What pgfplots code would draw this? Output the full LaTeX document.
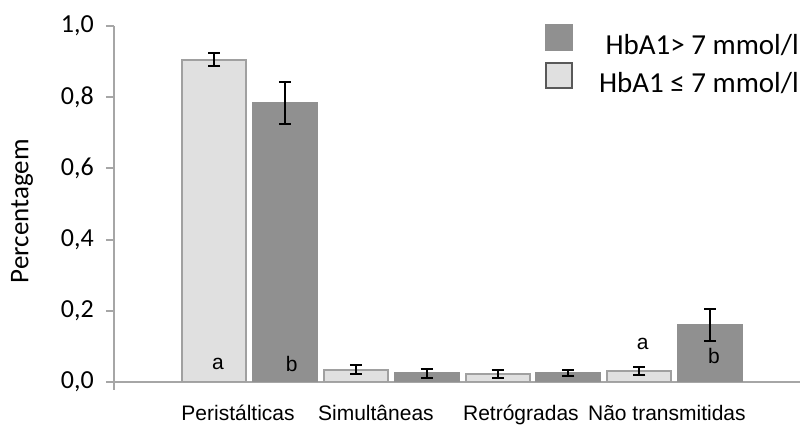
\documentclass[border=0pt]{standalone}
\usepackage{pgfplots}
\pgfplotsset{compat=1.18}
\usepackage{fontspec}
\setmainfont{Carlito}
\newfontfamily\arialfont{Liberation Sans}
\definecolor{lightbar}{RGB}{224,224,224}
\definecolor{lightedge}{RGB}{160,160,160}
\definecolor{darkbar}{RGB}{144,144,144}
\definecolor{axisgray}{RGB}{166,166,166}

\begin{document}
\begin{tikzpicture}
\begin{axis}[
  name=ax,
  scale only axis,
  width=686pt, height=356pt,
  xmin=-0.956, xmax=3.884,
  ymin=0, ymax=1,
  axis lines=left,
  axis line style={axisgray, line width=2pt, -},
  ybar, bar shift=0pt, bar width=0.4515,
  ytick={0,0.2,0.4,0.6,0.8,1},
  xtick={-0.081,0.892,1.915,2.945},
  xticklabels={Peristálticas, Simultâneas, Retrógradas, Não transmitidas},
  extra x ticks={-0.956},
  extra x tick labels={},
  extra x tick style={xtick style={draw=axisgray, line width=2pt}},
  tick align=outside,
  major tick length=8pt,
  xtick style={draw=none},
  ytick style={draw=axisgray, line width=2pt},
  /pgf/number format/.cd, use comma, fixed, fixed zerofill, precision=1, assume math mode=true,
  /pgfplots/.cd,
  yticklabel style={font=\fontsize{26}{30}\selectfont, inner sep=0pt, xshift=-12pt},
  xticklabel style={font=\arialfont\fontsize{21}{25}\selectfont, anchor=base, yshift=-31pt},
  ylabel={Percentagem},
  ylabel style={at={(axis description cs:-0.134,0.48)}, anchor=center, font=\fontsize{27}{30}\selectfont},
  legend style={at={(axis description cs:0.628,1.005)}, anchor=north west,
    draw=none, fill=none, inner sep=0pt, row sep=2pt,
    font=\fontsize{29}{33}\selectfont,
    nodes={inner sep=0pt, text height=20pt, text depth=6pt}},
  legend cell align=right,
]

% HbA1 > 7 mmol/l
\addplot[fill=darkbar, draw=darkbar, line width=2pt,
  legend image code/.code={\fill[darkbar] (0pt,-3pt) rectangle (26pt,22pt); \path (52pt,0pt);},
  error bars/.cd, y dir=both, y explicit,
  error bar style={black, line width=2pt},
  error mark options={black, line width=2pt, mark size=6pt, rotate=90}]
  coordinates {(0.25,0.785) +- (0,0.059) (1.25,0.024) +- (0,0.013) (2.25,0.025) +- (0,0.009) (3.25,0.160) +- (0,0.044)};
\addlegendentry{HbA1> 7 mmol/l}

% HbA1 <= 7 mmol/l
\addplot[fill=lightbar, draw=lightedge, line width=2pt,
  legend image code/.code={\draw[fill=lightbar, draw=black!65, line width=1.2pt] (0pt,-3pt) rectangle (26pt,22pt); \path (52pt,0pt);},
  error bars/.cd, y dir=both, y explicit,
  error bar style={black, line width=2pt},
  error mark options={black, line width=2pt, mark size=6pt, rotate=90}]
  coordinates {(-0.25,0.905) +- (0,0.018) (0.75,0.035) +- (0,0.012) (1.75,0.022) +- (0,0.011) (2.75,0.032) +- (0,0.011)};
\addlegendentry{HbA1 ≤ 7 mmol/l}

% group letters
\node[font=\arialfont\fontsize{21}{25}\selectfont, anchor=base] at (axis cs:-0.222,0.035) {a};
\node[font=\arialfont\fontsize{21}{25}\selectfont, anchor=base] at (axis cs:0.298,0.029) {b};
\node[font=\arialfont\fontsize{21}{25}\selectfont, anchor=base] at (axis cs:2.774,0.090) {a};
\node[font=\arialfont\fontsize{21}{25}\selectfont, anchor=base] at (axis cs:3.277,0.0525) {b};
\end{axis}
\pgfresetboundingbox
\path ([shift={(-114pt,-43pt)}]ax.south west) rectangle ([shift={(692pt,382pt)}]ax.south west);
\end{tikzpicture}
\end{document}
